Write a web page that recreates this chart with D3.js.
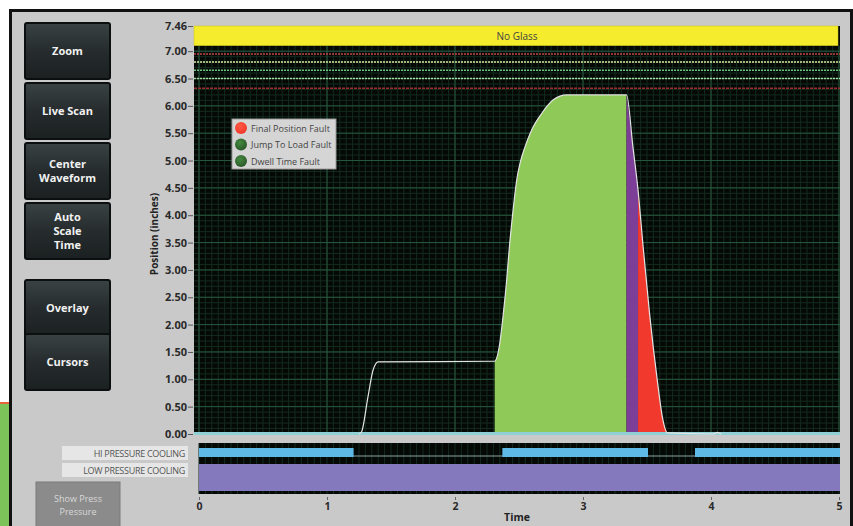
<!DOCTYPE html>
<html>
<head>
<meta charset="utf-8">
<script src="https://cdn.jsdelivr.net/npm/d3@7/dist/d3.min.js"></script>
<style>
  body { margin: 0; background: #fff; }
  svg { display: block; }
  text { font-family: "Open Sans", "Liberation Sans", sans-serif; }
</style>
</head>
<body>
<svg width="853" height="526"></svg>
<script>
// position trace (time in s, position in inches)
const timeValues     = [0, 1.25, 1.27, 1.32, 1.36, 1.40, 2.31, 2.346, 2.378, 2.404, 2.425, 2.451, 2.482, 2.508, 2.547, 2.599, 2.677, 2.768, 2.873, 3.34, 3.39, 3.43, 3.47, 3.52, 3.58, 3.62, 3.66, 4.02, 4.05, 4.08, 5];
const positionValues = [0, 0,    0.04, 0.68, 1.17, 1.32, 1.33, 1.60,  2.21,  2.82,  3.42,  4.03,  4.64,  4.95,  5.25,  5.56,  5.86,  6.11,  6.20,  6.20, 5.25, 4.46, 3.42, 2.20, 0.99, 0.31, 0.02, 0,    0.03, 0,    0];

const yTickValues = [0, 0.5, 1, 1.5, 2, 2.5, 3, 3.5, 4, 4.5, 5, 5.5, 6, 6.5, 7, 7.46];
const xTickValues = [0, 1, 2, 3, 4, 5];

// limit lines near the top
const limitValues = [6.95, 6.80, 6.65, 6.50, 6.32];
const limitColors = ['#c04444', '#d9e6a0', '#6cc47a', '#a6dca0', '#9a2e2e'];
const limitDashes = ['2,1', '2,1', '2,1', '2,1', '3,1'];

// coloured phases under the trace
const phaseStart  = [2.31, 3.34, 3.43];
const phaseEnd    = [3.34, 3.43, 3.66];
const phaseColors = ['#8fc958', '#7c3e97', '#f2392e'];

const faultNames  = ['Final Position Fault', 'Jump To Load Fault', 'Dwell Time Fault'];
const faultColors = ['#f03a2c', '#2c5a2a', '#2c5a2a'];

const coolingLabels = ['HI PRESSURE COOLING', 'LOW PRESSURE COOLING'];
const hiStart  = [0, 2.37, 3.875];
const hiEnd    = [1.20, 3.50, 5];
const lowStart = [0];
const lowEnd   = [5];

const buttonLabels = [['Zoom'], ['Live Scan'], ['Center', 'Waveform'], ['Auto', 'Scale', 'Time'], ['Overlay'], ['Cursors']];

const svg = d3.select('svg');
const width = +svg.attr('width');
const height = +svg.attr('height');

const defs = svg.append('defs');
const btnGrad = defs.append('linearGradient').attr('id', 'btn').attr('x1', 0).attr('y1', 0).attr('x2', 0).attr('y2', 1);
btnGrad.append('stop').attr('offset', '0%').attr('stop-color', '#3a4244');
btnGrad.append('stop').attr('offset', '50%').attr('stop-color', '#262c2e');
btnGrad.append('stop').attr('offset', '100%').attr('stop-color', '#1b2021');
faultColors.forEach((c, i) => {
    const g = defs.append('radialGradient').attr('id', 'led' + i).attr('cx', '40%').attr('cy', '35%').attr('r', '65%');
    g.append('stop').attr('offset', '0%').attr('stop-color', d3.color(c).brighter(1.2));
    g.append('stop').attr('offset', '100%').attr('stop-color', c);
});

// page / frame
svg.append('rect').attr('width', width).attr('height', height).attr('fill', '#fff');
svg.append('rect').attr('x', 0).attr('y', 404).attr('width', 9).attr('height', height - 404).attr('fill', '#7cc35a');
svg.append('rect').attr('x', 0).attr('y', 402).attr('width', 9).attr('height', 2).attr('fill', '#e8643c');
svg.append('rect').attr('x', 9).attr('y', 9).attr('width', width - 9).attr('height', height - 9).attr('fill', '#111');
svg.append('rect').attr('x', 12).attr('y', 12).attr('width', 838).attr('height', height - 12).attr('fill', '#c9c9c9');

// buttons
const buttonTops = [23, 83, 143, 203, 280, 334];
buttonLabels.forEach((lines, i) => {
    const top = buttonTops[i], h = 56;
    svg.append('rect')
        .attr('x', 25).attr('y', top).attr('width', 85).attr('height', h)
        .attr('rx', 2).attr('fill', 'url(#btn)').attr('stroke', '#0c0f10').attr('stroke-width', 2);
    lines.forEach((line, j) => {
        svg.append('text')
            .attr('x', 67.5)
            .attr('y', top + h / 2 + (j - (lines.length - 1) / 2) * 14 + 4)
            .attr('text-anchor', 'middle')
            .attr('font-size', 11).attr('font-weight', 'bold')
            .attr('fill', '#f2f2f2')
            .text(line);
    });
});

// Show Press Pressure (disabled)
svg.append('rect').attr('x', 36).attr('y', 482).attr('width', 84).attr('height', 60)
    .attr('fill', '#8b8b8b').attr('stroke', '#7a7a7a');
['Show Press', 'Pressure'].forEach((t, j) => {
    svg.append('text').attr('x', 78).attr('y', 502 + j * 13)
        .attr('text-anchor', 'middle').attr('font-size', 9)
        .attr('font-family', '"Liberation Serif", serif')
        .attr('fill', '#d9d9d9').text(t);
});

// scales
const x = d3.scaleLinear().domain([0, 5]).range([199, 839]);
const y = d3.scaleLinear().domain([0, 7.46]).range([434, 26]);

// main plot
const plotLeft = 194, plotRight = 840;
svg.append('rect').attr('x', plotLeft).attr('y', y(7.46)).attr('width', plotRight - plotLeft)
    .attr('height', y(0) - y(7.46)).attr('fill', '#050906');

const grid = svg.append('g');
grid.selectAll('.vmin').data(d3.range(0, 5.001, 0.05)).join('line')
    .attr('x1', d => x(d)).attr('x2', d => x(d)).attr('y1', y(7.1)).attr('y2', y(0))
    .attr('stroke', '#142b1e').attr('stroke-width', 1);
grid.selectAll('.hmin').data(d3.range(0, 7.1, 0.1)).join('line')
    .attr('x1', plotLeft).attr('x2', plotRight).attr('y1', d => y(d)).attr('y2', d => y(d))
    .attr('stroke', '#142b1e').attr('stroke-width', 1);
grid.selectAll('.hmaj').data(yTickValues.filter(d => d < 7.1)).join('line')
    .attr('x1', plotLeft).attr('x2', plotRight).attr('y1', d => y(d)).attr('y2', d => y(d))
    .attr('stroke', '#27583f').attr('stroke-width', 1);
grid.selectAll('.vmaj').data(xTickValues).join('line')
    .attr('x1', d => x(d)).attr('x2', d => x(d)).attr('y1', y(7.1)).attr('y2', y(0))
    .attr('stroke', '#27583f').attr('stroke-width', 1);

// limit lines
limitValues.forEach((v, i) => {
    svg.append('line')
        .attr('x1', plotLeft).attr('x2', plotRight).attr('y1', y(v)).attr('y2', y(v))
        .attr('stroke', limitColors[i]).attr('stroke-width', 1.5)
        .attr('stroke-dasharray', limitDashes[i]);
});

// yellow status band
svg.append('rect').attr('x', plotLeft).attr('y', y(7.46)).attr('width', plotRight - plotLeft - 2)
    .attr('height', y(7.1) - y(7.46)).attr('fill', '#f4ec2c').attr('stroke', '#c9c31a').attr('stroke-width', 0.5);
svg.append('text').attr('x', (plotLeft + plotRight) / 2).attr('y', 40)
    .attr('text-anchor', 'middle').attr('font-size', 10).attr('fill', '#444').text('No Glass');

// phases under the trace
const points = timeValues.map((t, i) => ({ t: t, v: positionValues[i] }));
const area = d3.area().x(d => x(d.t)).y0(y(0)).y1(d => y(d.v)).curve(d3.curveMonotoneX);
phaseStart.forEach((s, i) => {
    svg.append('path')
        .attr('d', area(points.filter(p => p.t >= s && p.t <= phaseEnd[i])))
        .attr('fill', phaseColors[i]);
});

// baseline
svg.append('rect').attr('x', plotLeft).attr('y', y(0) - 2).attr('width', plotRight - plotLeft).attr('height', 3)
    .attr('fill', '#8fcfd6');

// trace
const line = d3.line().x(d => x(d.t)).y(d => y(d.v)).curve(d3.curveMonotoneX);
svg.append('path').attr('d', line(points.filter(p => p.t > 1.2 && p.t < 4.2)))
    .attr('fill', 'none').attr('stroke', '#e4e4e4').attr('stroke-width', 1.2);

// y axis
const yAxis = svg.append('g').attr('transform', `translate(${plotLeft - 1},0)`)
    .call(d3.axisLeft(y).tickValues(yTickValues).tickFormat(d3.format('.2f')).tickSize(5).tickPadding(1));
yAxis.select('.domain').remove();
yAxis.selectAll('line').attr('stroke', '#555');
yAxis.selectAll('text').attr('font-size', 11).attr('font-weight', 'bold').attr('fill', '#2a2a2a')
    .attr('font-family', '"Liberation Sans", sans-serif');

svg.append('text')
    .attr('transform', `translate(158,234) rotate(-90)`)
    .attr('text-anchor', 'middle').attr('font-size', 10).attr('font-weight', 'bold').attr('fill', '#222')
    .text('Position (inches)');

// legend
const legend = svg.append('g').attr('transform', 'translate(232,119)');
legend.append('rect').attr('width', 104).attr('height', 50).attr('fill', '#d5d5d5').attr('stroke', '#9a9a9a');
faultNames.forEach((name, i) => {
    legend.append('circle').attr('cx', 9).attr('cy', 9 + i * 16.5).attr('r', 6).attr('fill', `url(#led${i})`);
    legend.append('text').attr('x', 19).attr('y', 12.5 + i * 16.5)
        .attr('font-size', 9).attr('fill', '#444').text(name);
});

// cooling panel
const panelTop = 443, panelBottom = 494;
svg.append('rect').attr('x', x(0)).attr('y', panelTop).attr('width', x(5) - x(0) + 1)
    .attr('height', panelBottom - panelTop).attr('fill', '#050906');
svg.append('g').selectAll('line').data(d3.range(0, 5.001, 0.05)).join('line')
    .attr('x1', d => x(d)).attr('x2', d => x(d)).attr('y1', panelTop).attr('y2', panelBottom)
    .attr('stroke', '#142b1e');
svg.append('line').attr('x1', x(0)).attr('x2', x(5)).attr('y1', 456).attr('y2', 456)
    .attr('stroke', '#8aa6a6').attr('stroke-width', 1);
hiStart.forEach((s, i) => {
    svg.append('rect').attr('x', x(s)).attr('y', 448).attr('width', x(hiEnd[i]) - x(s) + 1).attr('height', 9)
        .attr('fill', '#5fb9e6');
});
lowStart.forEach((s, i) => {
    svg.append('rect').attr('x', x(s)).attr('y', 464).attr('width', x(lowEnd[i]) - x(s) + 1).attr('height', 27)
        .attr('fill', '#8579bd');
});
coolingLabels.forEach((label, i) => {
    svg.append('rect').attr('x', 62).attr('y', 446 + i * 17).attr('width', 126).attr('height', 14).attr('fill', '#e6e6e6');
    svg.append('text').attr('x', 185).attr('y', 457 + i * 17).attr('text-anchor', 'end')
        .attr('font-size', 9).attr('letter-spacing', -0.3).attr('fill', '#555').text(label);
});

// x axis
const xAxis = svg.append('g').attr('transform', `translate(0,${panelBottom + 3})`)
    .call(d3.axisBottom(x).tickValues(xTickValues).tickFormat(d3.format('d')).tickSize(3).tickPadding(3));
xAxis.select('.domain').remove();
xAxis.selectAll('line').attr('stroke', '#666');
xAxis.selectAll('text').attr('font-size', 10.5).attr('font-weight', 'bold').attr('fill', '#2a2a2a')
    .attr('font-family', '"Liberation Sans", sans-serif');
svg.append('text').attr('x', 517).attr('y', 521).attr('text-anchor', 'middle')
    .attr('font-size', 10.5).attr('font-weight', 'bold').attr('fill', '#222').text('Time');
</script>
</body>
</html>
